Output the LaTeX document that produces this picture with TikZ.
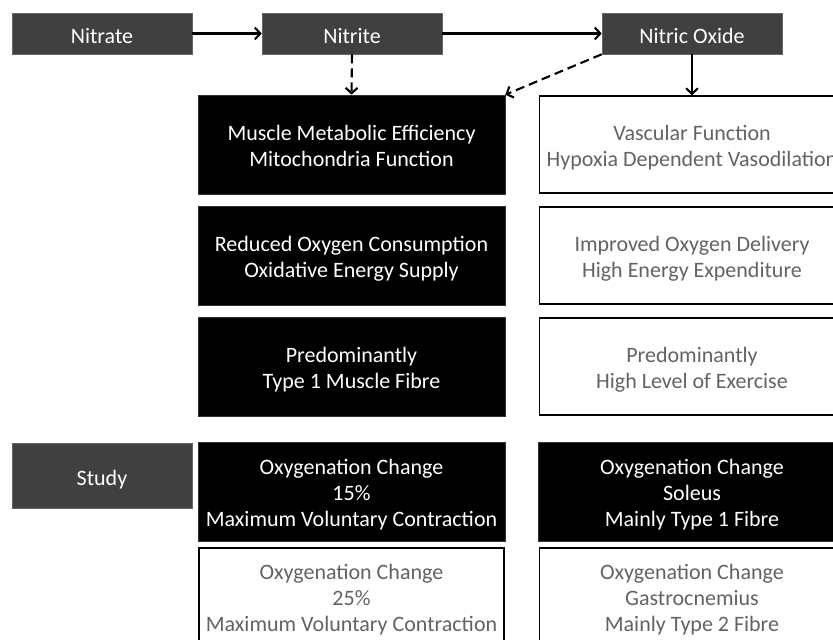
\documentclass[tikz,border=0pt]{standalone}
\usepackage{fontspec}
\setmainfont{Carlito}
\usetikzlibrary{arrows.meta}
\definecolor{darkbox}{HTML}{404040}
\definecolor{greytext}{HTML}{636363}
\newcommand{\topstrut}{\rule[-5pt]{0pt}{27.5pt}}
\newcommand{\botstrut}{\rule[-5pt]{0pt}{5pt}}
\newcommand{\headstrut}{\rule[-5pt]{0pt}{30.5pt}}
\tikzset{
  every node/.style={font=\fontsize{22}{26}\selectfont, align=center, inner sep=0pt},
  headbox/.style={fill=darkbox, draw=darkbox!80!white, line width=0.6pt, text=white, minimum width=180pt, minimum height=41pt,
    execute at begin node=\headstrut},
  blackbox/.style={fill=black, draw=black!80!white, line width=0.6pt, text=white, minimum width=307pt, minimum height=99pt},
  whitebox/.style={fill=white, draw=black, line width=1.6pt, text=greytext, minimum width=305pt, minimum height=97pt},
  solidarrow/.style={line width=2.1pt, -{Straight Barb[length=5.5pt,width=12pt]}},
  dasharrow/.style={line width=2.1pt, dash pattern=on 9pt off 5pt, -{Straight Barb[length=5.5pt,width=12pt]}}
}
\begin{document}
\begin{tikzpicture}[x=1pt,y=-1pt]
\path[use as bounding box, clip] (0,0) rectangle (833,640);
\fill[white] (0,0) rectangle (833,640);
% header row
\node[headbox] (nitrate) at (102,33.5) {Nitrate};
\node[headbox] (nitrite) at (352,33.5) {Nitrite};
\node[headbox] (no) at (692,33.5) {Nitric Oxide};
% left column
\node[blackbox] (l1) at (351.5,144.5) {\topstrut Muscle Metabolic Efficiency\\Mitochondria Function\botstrut};
\node[blackbox] (l2) at (351.5,255.5) {\topstrut Reduced Oxygen Consumption\\Oxidative Energy Supply\botstrut};
\node[blackbox] (l3) at (351.5,366.5) {\topstrut Predominantly\\Type 1 Muscle Fibre\botstrut};
\node[blackbox] (l4) at (351.5,491.5) {\topstrut Oxygenation Change\\15\%\\Maximum Voluntary Contraction\botstrut};
\node[whitebox] (l5) at (351.5,596.5) {\topstrut Oxygenation Change\\25\%\\Maximum Voluntary Contraction\botstrut};
% right column
\node[whitebox] (r1) at (692,144.5) {\topstrut Vascular Function\\Hypoxia Dependent Vasodilation\botstrut};
\node[whitebox] (r2) at (692,255.5) {\topstrut Improved Oxygen Delivery\\High Energy Expenditure\botstrut};
\node[whitebox] (r3) at (692,366.5) {\topstrut Predominantly\\High Level of Exercise\botstrut};
\node[blackbox] (r4) at (692,491.5) {\topstrut Oxygenation Change\\Soleus\\Mainly Type 1 Fibre\botstrut};
\node[whitebox] (r5) at (692,596.5) {\topstrut Oxygenation Change\\Gastrocnemius\\Mainly Type 2 Fibre\botstrut};
% study
\node[headbox, minimum height=65pt] (study) at (102,475.5) {Study};
% connectors
\draw[solidarrow] (nitrate.east) -- (nitrite.west);
\draw[solidarrow] (nitrite.east) -- (no.west);
\draw[dasharrow] (nitrite.south) -- (l1.north);
\draw[dasharrow] (no.south west) -- (l1.north east);
\draw[solidarrow] (no.south) -- (r1.north);
\end{tikzpicture}
\end{document}
